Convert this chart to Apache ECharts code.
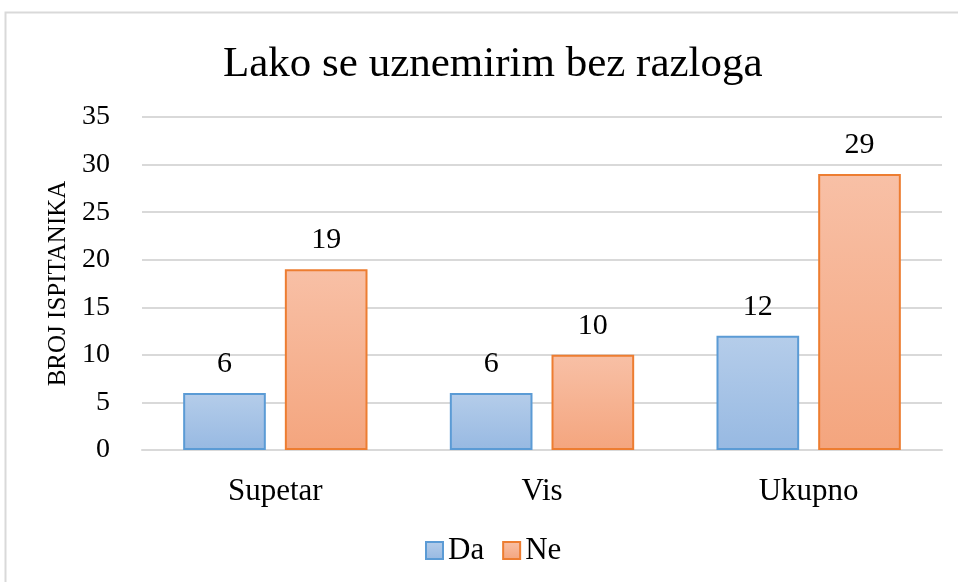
<!DOCTYPE html>
<html>
<head>
<meta charset="utf-8">
<script src="https://cdn.jsdelivr.net/npm/echarts@6/dist/echarts.min.js"></script>
<style>
  html, body { margin: 0; padding: 0; background: #fff; }
  #chart { width: 958px; height: 582px; }
</style>
</head>
<body>
<div id="chart"></div>
<script>
const categories = ['Supetar', 'Vis', 'Ukupno']
const daValues = [6, 6, 12]
const neValues = [19, 10, 29]
const seriesNames = ['Da', 'Ne']

const font = '"Liberation Serif", "Times New Roman", serif'

function grad(top, bottom) {
  return new echarts.graphic.LinearGradient(0, 0, 0, 1, [
    { offset: 0, color: top },
    { offset: 1, color: bottom }
  ])
}

const chart = echarts.init(document.getElementById('chart'))
chart.setOption({
  backgroundColor: '#fff',
  animation: false,
  textStyle: { fontFamily: font },
  graphic: [{
    type: 'rect',
    shape: { x: 5.5, y: 12.5, width: 960, height: 580 },
    style: { fill: 'none', stroke: '#d9d9d9', lineWidth: 2 },
    silent: true
  }],
  title: {
    text: 'Lako se uznemirim bez razloga',
    left: 218,
    top: 38,
    textStyle: { fontFamily: font, fontSize: 43, fontWeight: 'normal', color: '#000' }
  },
  legend: {
    bottom: 11,
    left: 420,
    icon: 'rect',
    itemWidth: 17,
    itemHeight: 17,
    itemGap: 18,
    textStyle: { fontFamily: font, fontSize: 31, color: '#000' },
    data: seriesNames
  },
  grid: { left: 142, right: 16, top: 117, bottom: 132 },
  xAxis: {
    type: 'category',
    data: categories,
    axisTick: { show: false },
    axisLine: { lineStyle: { color: '#d9d9d9', width: 2 } },
    axisLabel: { fontFamily: font, fontSize: 31, color: '#000', margin: 26 }
  },
  yAxis: {
    type: 'value',
    min: 0,
    max: 35,
    interval: 5,
    name: 'BROJ ISPITANIKA',
    nameLocation: 'middle',
    nameGap: 64,
    nameTextStyle: { fontFamily: font, fontSize: 25, color: '#000' },
    axisLine: { show: false },
    axisTick: { show: false },
    axisLabel: { fontFamily: font, fontSize: 28, color: '#000', margin: 32 },
    splitLine: { lineStyle: { color: '#d9d9d9', width: 2 } }
  },
  series: [{
    name: seriesNames[0],
    type: 'bar',
    data: daValues,
    barWidth: '31%',
    barGap: '23%',
    itemStyle: { color: grad('#b5cdea', '#97b9e2'), borderColor: '#5b9bd5', borderWidth: 2 },
    label: { show: true, position: 'top', distance: 14, fontFamily: font, fontSize: 30, color: '#000' }
  }, {
    name: seriesNames[1],
    type: 'bar',
    data: neValues,
    barWidth: '31%',
    itemStyle: { color: grad('#f8c0a6', '#f4a57e'), borderColor: '#ed7d31', borderWidth: 2 },
    label: { show: true, position: 'top', distance: 14, fontFamily: font, fontSize: 30, color: '#000' }
  }]
})
</script>
</body>
</html>
